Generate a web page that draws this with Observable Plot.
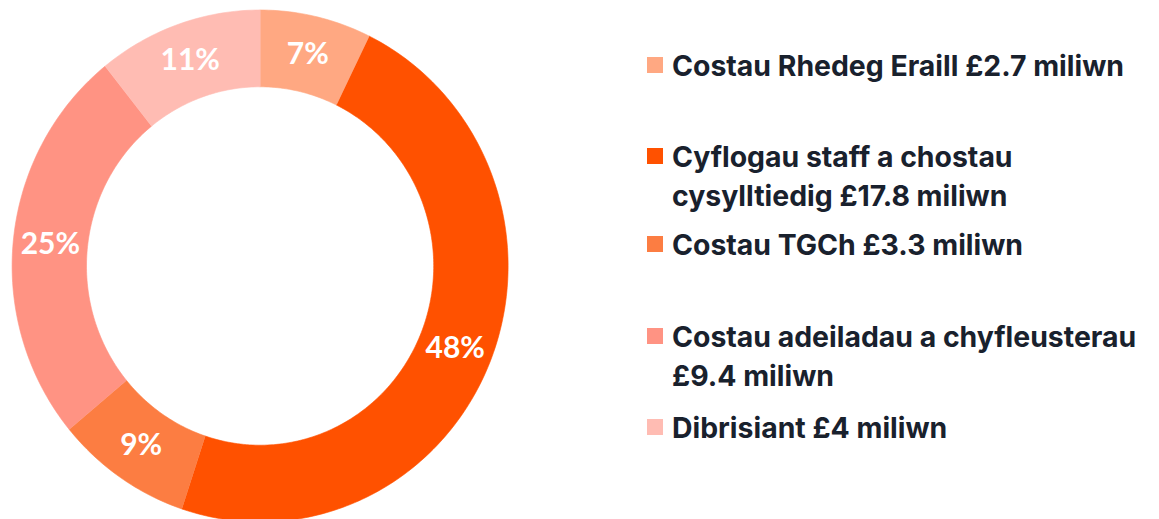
<!DOCTYPE html>
<html><head><meta charset="utf-8">
<script src="https://cdn.jsdelivr.net/npm/d3@7"></script>
<script src="https://cdn.jsdelivr.net/npm/@observablehq/plot@0.6"></script>
<style>
body{margin:0;background:#fff;}
#wrap{position:relative;width:1159px;height:519px;overflow:hidden;font-family:Inter,Lato,sans-serif;}
#chart{position:absolute;left:0;top:0;}
.sw{position:absolute;left:647px;width:16px;height:16px;}
.lab{position:absolute;left:672px;font-size:28.4px;line-height:39px;font-weight:700;color:#19212d;white-space:nowrap;}
</style></head>
<body><div id="wrap"><div id="chart"></div><div id="legend"></div></div>
<script>
const categories = ["Costau Rhedeg Eraill", "Cyflogau staff a chostau cysylltiedig", "Costau TGCh", "Costau adeiladau a chyfleusterau", "Dibrisiant"];
const values = [2.7, 17.8, 3.3, 9.4, 4];
const percentLabels = ["7%", "48%", "9%", "25%", "11%"];
const colors = ["#FFA882", "#FF5100", "#FC7D42", "#FF9383", "#FFBCB3"];
const legendLines = [
  ["Costau Rhedeg Eraill £2.7 miliwn"],
  ["Cyflogau staff a chostau", "cysylltiedig £17.8 miliwn"],
  ["Costau TGCh £3.3 miliwn"],
  ["Costau adeiladau a chyfleusterau", "£9.4 miliwn"],
  ["Dibrisiant £4 miliwn"]
];
const legendBaselines = [76, 167, 255, 347, 438];

const inner = 0.70, outer = 1;
const arcs = d3.pie().sort(null).value(d => d)(values);
const pts = [];
arcs.forEach((a, i) => {
  const n = Math.max(2, Math.ceil((a.endAngle - a.startAngle) / (Math.PI / 180)));
  for (let k = 0; k <= n; k++) {
    const t = a.startAngle + (a.endAngle - a.startAngle) * k / n;
    pts.push({cat: categories[i], x: outer * Math.sin(t), y: outer * Math.cos(t)});
  }
  for (let k = n; k >= 0; k--) {
    const t = a.startAngle + (a.endAngle - a.startAngle) * k / n;
    pts.push({cat: categories[i], x: inner * Math.sin(t), y: inner * Math.cos(t)});
  }
});
const labels = arcs.map((a, i) => {
  const m = (a.startAngle + a.endAngle) / 2, r = (inner + outer) / 2;
  return {cat: categories[i], text: percentLabels[i], x: r * Math.sin(m), y: r * Math.cos(m)};
});

const chart = Plot.plot({
  width: 540, height: 519,
  margin: 0,
  x: {domain: [-1, 1], range: [11.6, 507.6], axis: null},
  y: {domain: [-1, 1], range: [521.5, 9.5], axis: null},
  color: {domain: categories, range: colors},
  style: {background: "transparent", overflow: "visible"},
  marks: [
    Plot.line(pts, {x: "x", y: "y", z: "cat", fill: "cat", stroke: "cat", strokeWidth: 0.6, curve: "linear"}),
    Plot.text(labels, {x: "x", y: "y", text: "text", fill: "white", fontSize: 30, fontWeight: 700, fontFamily: "Lato, sans-serif"})
  ]
});
document.getElementById("chart").appendChild(chart);

const leg = document.getElementById("legend");
categories.forEach((c, i) => {
  const b = legendBaselines[i];
  const sw = document.createElement("div");
  sw.className = "sw";
  sw.style.top = (b - 19) + "px";
  sw.style.background = colors[i];
  leg.appendChild(sw);
  const lab = document.createElement("div");
  lab.className = "lab";
  lab.style.top = (b - 29.8) + "px";
  lab.innerHTML = legendLines[i].join("<br>");
  leg.appendChild(lab);
});
</script></body></html>
